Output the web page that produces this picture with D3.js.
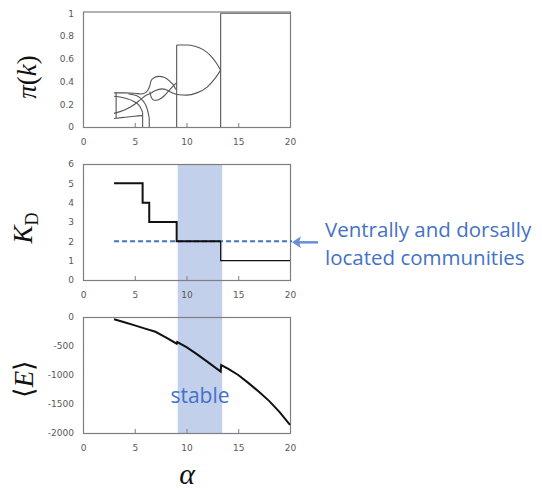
<!DOCTYPE html>
<html>
<head>
<meta charset="utf-8">
<script src="https://cdn.jsdelivr.net/npm/d3@7"></script>
<style>
  body { margin: 0; background: #fff; }
  svg { display: block; }
</style>
</head>
<body>
<div id="chart"></div>
<script>
// data
const alphaTicks = [0, 5, 10, 15, 20];
const piTicks = [0, 0.2, 0.4, 0.6, 0.8, 1];
const kdTicks = [0, 1, 2, 3, 4, 5, 6];
const energyTicks = [0, -500, -1000, -1500, -2000];

// community fractions pi(k) vs alpha, smooth strokes
const piCurves = [
  [[3, 0.30], [4, 0.30], [5, 0.297], [5.6, 0.29], [6.0, 0.30], [6.3, 0.33], [6.45, 0.36]],
  [[3, 0.27], [4, 0.255], [5, 0.22], [5.5, 0.18], [5.76, 0.13]],
  [[3, 0.12], [4, 0.15], [5, 0.20], [5.6, 0.245], [6.1, 0.28], [6.45, 0.29]],
  [[3, 0.075], [4, 0.085], [5, 0.095], [5.76, 0.10]],
  [[4.4, 0.29], [5.2, 0.275], [5.8, 0.23], [6.2, 0.16], [6.4, 0.08]],
  [[6.45, 0.36], [6.6, 0.41], [6.9, 0.435], [7.3, 0.445], [7.9, 0.435], [8.4, 0.40], [8.8, 0.36], [8.95, 0.33]],
  [[6.45, 0.31], [6.6, 0.26], [6.9, 0.235], [7.3, 0.24], [7.8, 0.27], [8.3, 0.32], [8.7, 0.36], [9.05, 0.39]],
  [[6.45, 0.29], [7.0, 0.32], [7.6, 0.335], [8.1, 0.325], [8.6, 0.30], [9.05, 0.285]],
  [[9.05, 0.285], [10, 0.28], [11, 0.30], [12, 0.35], [12.7, 0.42], [13.3, 0.5]],
  [[9.05, 0.72], [10, 0.72], [10.8, 0.71], [11.6, 0.68], [12.3, 0.63], [12.9, 0.56], [13.3, 0.5]],
  [[13.3, 1], [20, 1]]
];
// vertical jumps: [alpha, from, to]
const piDrops = [
  [3.2, 0.08, 0.30],
  [5.76, 0.13, 0],
  [6.4, 0.08, 0],
  [9.05, 0, 0.72],
  [13.3, 0, 1]
];

// number of dominant communities K_D (step)
const kdAlpha = [3, 5.76, 6.4, 9.05, 13.3, 20];
const kdValues = [5, 4, 3, 2, 1];

// mean energy <E>
const energyAlpha = [3, 4, 5, 6, 7, 8, 9.05, 9.1, 10, 11, 12, 13.3, 13.35, 14, 15, 16, 17, 18, 19, 20];
const energyValues = [-40, -90, -145, -200, -255, -350, -460, -432, -520, -640, -770, -940, -830, -890, -1000, -1140, -1290, -1450, -1640, -1860];

const stableBand = [9.15, 13.45];
const dashLevel = 2, dashStart = 3;

const W = 542, H = 490;
const left = 83, right = 290;
const blue = "#4472c4", axisCol = "#7f7f7f", tickCol = "#595959";

const svg = d3.select("#chart").append("svg")
  .attr("width", W).attr("height", H);

const x = d3.scaleLinear().domain([0, 20]).range([left, right]);
const yPi = d3.scaleLinear().domain([0, 1.015]).range([127, 11.5]);
const yK = d3.scaleLinear().domain([0, 6]).range([280, 164]);
const yE = d3.scaleLinear().domain([-2000, 0]).range([433, 317]);

// shaded "stable" band across the lower two panels
svg.append("rect")
  .attr("x", x(stableBand[0]))
  .attr("y", yK(6))
  .attr("width", x(stableBand[1]) - x(stableBand[0]))
  .attr("height", yE(-2000) - yK(6))
  .attr("fill", "#c2d0ec");

function panel(y, yTicks) {
  const y0 = y.range()[0], y1 = y.range()[1];
  const top = Math.min(y0, y1), bot = Math.max(y0, y1);
  const g = svg.append("g");
  g.append("g")
    .attr("transform", `translate(0, ${bot})`)
    .call(d3.axisBottom(x).tickValues(alphaTicks).tickSize(-4).tickPadding(12))
    .call(a => a.select(".domain").remove())
    .call(a => a.selectAll(".tick line").attr("stroke", axisCol)
      .attr("display", d => (d === 0 || d === 20) ? "none" : null))
    .call(a => a.selectAll("text").attr("fill", tickCol)
      .attr("font-family", "DejaVu Sans").attr("font-size", 9));
  g.append("g")
    .attr("transform", `translate(${left}, 0)`)
    .call(d3.axisLeft(y).tickValues(yTicks).tickSize(0).tickPadding(9).tickFormat(d => String(d)))
    .call(a => a.select(".domain").remove())
    .call(a => a.selectAll("text").attr("fill", tickCol)
      .attr("font-family", "DejaVu Sans").attr("font-size", 9));
  g.append("rect")
    .attr("x", left + 0.5).attr("y", top + 0.5)
    .attr("width", right - left).attr("height", bot - top)
    .attr("fill", "none").attr("stroke", axisCol).attr("stroke-width", 1.2);
  return g;
}

// top panel: pi(k)
const gPi = panel(yPi, piTicks);
const piLine = d3.line().x(d => x(d[0])).y(d => yPi(d[1])).curve(d3.curveMonotoneX);
gPi.selectAll(".pic")
  .data(piCurves)
  .join("path")
  .attr("d", piLine)
  .attr("fill", "none")
  .attr("stroke", "#555")
  .attr("stroke-width", 1.1);
gPi.selectAll(".drop")
  .data(piDrops)
  .join("line")
  .attr("x1", d => x(d[0])).attr("x2", d => x(d[0]))
  .attr("y1", d => yPi(d[1])).attr("y2", d => yPi(d[2]))
  .attr("stroke", "#555")
  .attr("stroke-width", 1.1);

// middle panel: K_D
const gK = panel(yK, kdTicks);
gK.append("line")
  .attr("x1", x(dashStart)).attr("x2", right + 2)
  .attr("y1", yK(dashLevel)).attr("y2", yK(dashLevel))
  .attr("stroke", blue).attr("stroke-width", 2)
  .attr("stroke-dasharray", "5,3");
const kdSteps = [];
kdValues.forEach((v, i) => { kdSteps.push([kdAlpha[i], v]); kdSteps.push([kdAlpha[i + 1], v]); });
const kLine = d3.line().x(d => x(d[0])).y(d => yK(d[1]));
gK.append("path")
  .attr("d", kLine(kdSteps.slice(0, 8)))
  .attr("fill", "none").attr("stroke", "#111").attr("stroke-width", 2);
gK.append("path")
  .attr("d", kLine(kdSteps.slice(7)))
  .attr("fill", "none").attr("stroke", "#111").attr("stroke-width", 1.2);

// bottom panel: <E>
const gE = panel(yE, energyTicks);
gE.append("path")
  .datum(energyAlpha.map((a, i) => [a, energyValues[i]]))
  .attr("d", d3.line().x(d => x(d[0])).y(d => yE(d[1])))
  .attr("fill", "none").attr("stroke", "#111").attr("stroke-width", 2);

svg.append("text")
  .attr("x", x((stableBand[0] + stableBand[1]) / 2)).attr("y", 403)
  .attr("text-anchor", "middle")
  .attr("font-family", "Open Sans").attr("font-size", 21)
  .attr("fill", blue).text("stable");

// annotation arrow + text
const ay = yK(dashLevel) + 1;
svg.append("line")
  .attr("x1", 318).attr("x2", 297).attr("y1", ay).attr("y2", ay)
  .attr("stroke", "#6b8fd4").attr("stroke-width", 2.5);
svg.append("path")
  .attr("d", `M292,${ay} L301,${ay - 6} L299,${ay} L301,${ay + 6} Z`)
  .attr("fill", "#6b8fd4");
const note = svg.append("text")
  .attr("font-family", "Open Sans").attr("font-size", 20.5).attr("fill", blue);
note.append("tspan").attr("x", 325).attr("y", 237).text("Ventrally and dorsally");
note.append("tspan").attr("x", 325).attr("y", 265).text("located communities");

// axis titles
const serif = "Liberation Serif";
function ytitle(cx, cy) {
  return svg.append("text")
    .attr("transform", `translate(${cx}, ${cy}) rotate(-90)`)
    .attr("text-anchor", "middle")
    .attr("font-family", serif).attr("font-size", 27).attr("fill", "#111");
}
const t1 = ytitle(36, 77);
t1.append("tspan").attr("font-style", "italic").text("π");
t1.append("tspan").text("(");
t1.append("tspan").attr("font-style", "italic").text("k");
t1.append("tspan").text(")");

const t2 = ytitle(32, 228);
t2.append("tspan").attr("font-style", "italic").text("K");
t2.append("tspan").attr("font-size", 18).attr("dy", 6).text("D");

const t3 = ytitle(33, 379);
t3.append("tspan").text("⟨");
t3.append("tspan").attr("font-style", "italic").text("E");
t3.append("tspan").text("⟩");

svg.append("text")
  .attr("x", 187).attr("y", 484)
  .attr("text-anchor", "middle")
  .attr("font-family", serif).attr("font-size", 30).attr("font-style", "italic")
  .attr("fill", "#111").text("α");
</script>
</body>
</html>
